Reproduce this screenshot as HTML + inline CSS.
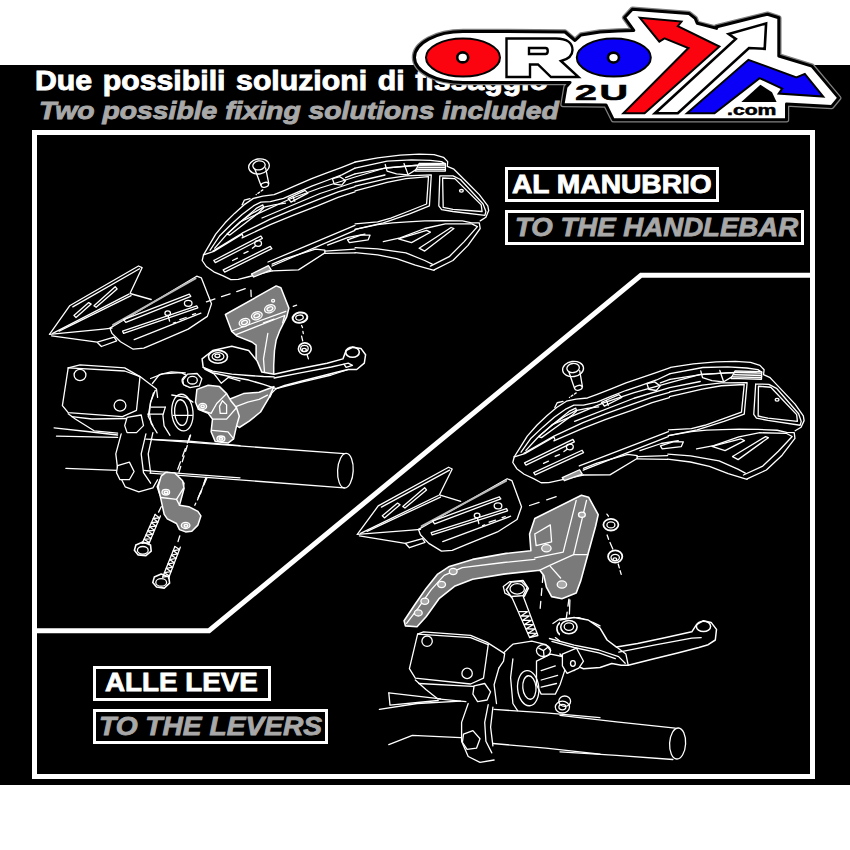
<!DOCTYPE html>
<html><head><meta charset="utf-8">
<style>
html,body{margin:0;padding:0;background:#fff;width:850px;height:850px;overflow:hidden}
#bg{position:absolute;left:0;top:65px;width:850px;height:720px;background:#000}
.t{position:absolute;font-family:"Liberation Sans",sans-serif;font-weight:bold;white-space:nowrap;transform-origin:0 0;line-height:1}
#h1{left:35.3px;top:66.6px;font-size:27.5px;color:#fff;word-spacing:2px;transform:scaleX(1.100);-webkit-text-stroke:0.9px #fff}
#h2{left:39px;top:98.5px;font-size:24.7px;color:#a8a8a8;font-style:italic;transform:scaleX(1.147);-webkit-text-stroke:0.9px #a8a8a8}
.box{position:absolute;border:3px solid #fff;box-sizing:border-box}
svg{position:absolute;left:0;top:0}
</style></head><body>
<div id="bg"></div>
<div class="t" id="h1">Due possibili soluzioni di fissaggio</div>
<div class="t" id="h2">Two possible fixing solutions included</div>
<!--DRAW--><svg width="850" height="850" viewBox="0 0 850 850" style="position:absolute;left:0;top:0" stroke-linecap="round" stroke-linejoin="round"><g><ellipse cx="259.0" cy="166.4" rx="10.4" ry="7.5" transform="rotate(-10 259.0 166.4)" stroke="#fff" stroke-width="1.3" fill="none"/><ellipse cx="259.0" cy="165.4" rx="6.2" ry="4.5" transform="rotate(-10 259.0 165.4)" stroke="#fff" stroke-width="1.3" fill="none"/><path d="M254.9,169.2 L260.9,185.2" stroke="#fff" stroke-width="1.3" fill="none"/><path d="M265.6,167.9 L268.8,183.7" stroke="#fff" stroke-width="1.3" fill="none"/><ellipse cx="264.8" cy="184.8" rx="3.8" ry="2.3" transform="rotate(-15 264.8 184.8)" stroke="#fff" stroke-width="1.3" fill="none"/><path d="M262.8,189.9 L256.2,194.6" stroke="#fff" stroke-width="1.3" fill="none" stroke-dasharray="2,2"/><path d="M242.1,204.9 L244.3,200.2 L250.0,198.7" stroke="#fff" stroke-width="1.3" fill="none"/><path d="M203.5,254.8 L209.1,245.4 L215.7,234.1 L225.1,222.8 L234.5,213.4 L243.9,204.9 L253.4,198.4 L262.8,196.1 L274.1,194.6 L283.5,190.8 L296.6,185.2 L311.7,178.6 L326.8,172.9 L341.8,167.3 L355.0,162.2" stroke="#fff" stroke-width="1.3" fill="none"/><path d="M210.1,250.1 L219.5,236.0 L230.8,224.7 L242.1,214.4 L253.4,205.9 L260.9,202.1 L270.3,201.7 L283.5,198.4 L296.6,192.7 L311.7,186.1 L326.8,180.5 L341.8,174.8 L355.0,168.2" stroke="#fff" stroke-width="1.3" fill="none"/><path d="M214.8,248.2 L226.1,235.1 L239.2,222.8 L251.5,213.8 L262.8,207.4 L274.1,204.9 L285.4,203.1" stroke="#fff" stroke-width="1.3" fill="none"/><path d="M227.0,234.1 L243.9,219.1 L257.1,207.8 L262.8,204.9 L263.7,207.8 L259.0,212.5 L245.8,222.8 L229.8,235.1 L227.0,234.1" stroke="#fff" stroke-width="1.3" fill="none"/><path d="M212.9,251.1 L242.1,233.2 L270.3,219.1 L292.9,209.6 L317.4,199.9 L338.1,191.8 L355.0,186.7" stroke="#fff" stroke-width="1.3" fill="none"/><path d="M242.1,237.9 L270.3,224.7 L292.9,215.3 L317.4,205.9 L338.1,197.4 L355.0,191.8" stroke="#fff" stroke-width="1.3" fill="none"/><path d="M288.2,198.4 L305.1,190.4 L307.9,193.1 L291.0,202.1 L288.2,198.4" stroke="#fff" stroke-width="1.3" fill="none"/><path d="M292.9,196.5 L294.8,201.2" stroke="#fff" stroke-width="1.3" fill="none"/><path d="M332.4,178.6 L339.9,176.7 L345.6,180.5 L341.8,185.2 L334.3,184.2 L332.4,178.6" stroke="#fff" stroke-width="1.3" fill="none"/><path d="M345.6,177.6 L355.0,173.9" stroke="#fff" stroke-width="1.3" fill="none"/><path d="M203.5,254.8 L202.2,260.5 L206.3,266.5 L213.8,271.8 L223.2,275.9 L230.8,279.7 L238.3,279.3 L249.6,276.5 L272.2,270.8" stroke="#fff" stroke-width="1.3" fill="none"/><path d="M203.5,254.8 L213.8,251.4 L242.1,234.1 L243.0,236.4" stroke="#fff" stroke-width="1.3" fill="none"/><path d="M213.8,260.5 L260.9,236.0 L262.4,238.3 L215.3,262.7 L213.8,260.5" stroke="#fff" stroke-width="1.3" fill="none"/><path d="M223.2,269.9 L270.3,246.4 L271.8,248.6 L224.7,272.1 L223.2,269.9" stroke="#fff" stroke-width="1.3" fill="none"/><ellipse cx="258.1" cy="243.5" rx="3.4" ry="2.8" stroke="#fff" stroke-width="1.3" fill="none"/><path d="M252.4,248.2 L255.6,245.8" stroke="#fff" stroke-width="1.3" fill="none"/><path d="M232.6,260.5 L237.4,258.2" stroke="#fff" stroke-width="1.3" fill="none"/><path d="M243.9,253.3 L248.1,251.4" stroke="#fff" stroke-width="1.3" fill="none"/><path d="M251.5,274.0 L268.4,265.7 L271.2,269.9 L253.7,277.0 L251.5,274.0" stroke="#fff" stroke-width="1.3" fill="#999"/><path d="M272.2,270.8 L298.5,269.9 L324.9,252.9 L324.9,250.1 L315.5,249.2 L285.4,258.6 L272.2,264.2" stroke="#fff" stroke-width="1.3" fill="none"/><path d="M324.9,251.1 L355.0,249.2" stroke="#fff" stroke-width="1.3" fill="none"/><path d="M324.9,253.3 L355.0,252.9" stroke="#fff" stroke-width="1.3" fill="none"/><path d="M355.1,162.0 L377.6,157.9 L400.2,155.1 L419.1,154.1 L434.1,154.7 L443.5,157.3 L447.7,161.6 L447.3,166.4 L453.9,169.2 L456.7,172.0 L468.0,183.3 L479.3,194.6 L487.8,205.9 L488.7,210.6 L485.9,217.2 L480.2,220.9" stroke="#fff" stroke-width="1.3" fill="none"/><path d="M355.1,168.2 L387.1,161.1 L411.5,159.8 L430.4,160.3 L441.6,161.6 L445.4,164.1" stroke="#fff" stroke-width="1.3" fill="none"/><path d="M355.1,173.9 L385.2,168.2 L415.3,165.4 L441.6,166.4 L445.4,168.2" stroke="#fff" stroke-width="1.3" fill="none"/><path d="M385.2,164.5 L387.1,171.1 L396.5,173.9 L407.8,174.8 L415.3,170.1 L420.9,164.5" stroke="#fff" stroke-width="1.3" fill="none"/><path d="M404.0,163.5 L407.8,173.9" stroke="#fff" stroke-width="1.3" fill="none"/><path d="M415.3,171.1 L445.4,171.1 L445.4,163.5 L419.1,163.5 L415.3,171.1" stroke="#fff" stroke-width="1.3" fill="#444"/><path d="M420.0,165.0 L444.5,165.0" stroke="#fff" stroke-width="1.3" fill="none"/><path d="M418.7,167.3 L444.5,167.3" stroke="#fff" stroke-width="1.3" fill="none"/><path d="M417.2,169.4 L444.5,169.4" stroke="#fff" stroke-width="1.3" fill="none"/><path d="M355.1,190.8 L387.1,182.4 L405.9,178.6 L428.5,176.7 L426.6,204.0 L407.8,211.5 L390.8,218.1 L377.6,221.9 L355.1,223.8" stroke="#fff" stroke-width="1.3" fill="none"/><path d="M355.1,186.1 L387.1,178.6 L405.9,175.8 L431.3,174.8 L429.4,205.9 L409.6,213.8 L383.3,222.8 L355.1,229.4" stroke="#fff" stroke-width="1.3" fill="none"/><path d="M439.8,175.8 L452.9,175.8 L460.5,179.5 L483.1,204.0 L485.9,211.5 L484.9,215.3 L452.9,211.5 L441.6,209.6 L438.8,205.9 L439.8,175.8" stroke="#fff" stroke-width="1.3" fill="none"/><path d="M442.6,178.0 L454.8,178.6 L481.2,204.9 L482.1,211.5 L452.9,209.3 L443.2,207.4 L442.6,178.0" stroke="#fff" stroke-width="1.3" fill="none"/><ellipse cx="461.4" cy="190.8" rx="1.9" ry="1.3" stroke="#fff" stroke-width="1.3" fill="none"/><path d="M355.1,229.4 L377.6,224.7 L392.7,222.8 L407.8,221.9 L424.7,220.9 L443.5,220.6 L462.4,220.9 L471.8,222.8 L479.3,222.8 L480.2,228.5 L468.0,245.4 L452.9,260.5 L434.1,269.9" stroke="#fff" stroke-width="1.3" fill="none"/><path d="M383.3,241.6 L400.2,237.9 L424.7,228.5 L445.4,223.8 L471.8,223.8 L477.4,226.6 L464.2,241.6 L449.2,256.7 L430.4,266.1" stroke="#fff" stroke-width="1.3" fill="none"/><path d="M355.1,252.6 L377.6,254.8 L396.5,258.6 L415.3,265.2 L434.1,270.3" stroke="#fff" stroke-width="1.3" fill="none"/><path d="M355.1,247.7 L377.6,248.8 L405.9,252.9 L424.7,260.5 L432.2,264.2" stroke="#fff" stroke-width="1.3" fill="none"/><path d="M398.4,238.8 L426.6,230.4 L430.4,232.2 L411.5,242.6 L398.4,238.8" stroke="#fff" stroke-width="1.3" fill="none"/><path d="M419.1,248.2 L451.1,227.5 L453.9,228.5 L424.7,251.1 L419.1,248.2" stroke="#fff" stroke-width="1.3" fill="none"/><path d="M347.5,239.8 L360.7,235.1 L370.1,235.1 L368.2,239.8 L349.4,242.6 L347.5,239.8" stroke="#fff" stroke-width="1.3" fill="none"/><path d="M240.0,222.0 L290.0,199.0 L320.0,188.0 L355.0,177.0 L385.0,168.0 L420.0,165.0 L440.0,164.0" stroke="#fff" stroke-width="1.3" fill="none"/><path d="M262.0,218.0 L320.0,193.5 L355.0,182.0 L385.0,175.0" stroke="#fff" stroke-width="1.3" fill="none"/><path d="M268.0,262.0 L355.0,225.4" stroke="#fff" stroke-width="1.3" fill="none"/><path d="M272.0,266.0 L355.0,230.3" stroke="#fff" stroke-width="1.3" fill="none"/><path d="M327.5,245.1 L348.2,237.4 L365.0,234.1" stroke="#fff" stroke-width="1.3" fill="none"/></g>
<g><path d="M49.5,334.4 L69.6,305.8 L138.5,266.0 L142.1,267.7 L130.0,293.5 L151.2,299.5" stroke="#fff" stroke-width="1.3" fill="none"/><path d="M72.8,306.9 L139.5,268.8" stroke="#fff" stroke-width="1.3" fill="none"/><path d="M52.7,333.4 L128.9,294.2" stroke="#fff" stroke-width="1.3" fill="none"/><path d="M59.1,331.2 L131.1,295.7" stroke="#fff" stroke-width="1.3" fill="none"/><path d="M73.9,315.4 L88.7,302.6 L91.2,304.1 L76.0,317.5 L73.9,315.4" stroke="#fff" stroke-width="1.3" fill="none"/><path d="M94.0,305.8 L115.2,286.8 L117.1,288.9 L96.1,307.3 L94.0,305.8" stroke="#fff" stroke-width="1.3" fill="none"/><path d="M49.5,334.4 L103.5,329.1 L112.0,328.1" stroke="#fff" stroke-width="1.3" fill="none"/><path d="M51.6,335.9 L97.2,342.2 L114.1,337.2 L116.7,340.8 L101.4,346.5 L97.2,342.2" stroke="#fff" stroke-width="1.3" fill="none"/><path d="M109.9,328.1 L196.7,276.2 L201.4,277.9 L211.5,303.7 L207.3,316.4 L188.2,329.1 L158.6,341.8 L143.8,348.2 L133.2,349.2 L120.5,341.8 L112.0,333.4 L109.9,328.1" stroke="#fff" stroke-width="1.3" fill="none"/><path d="M113.1,324.9 L195.6,278.3" stroke="#bbb" stroke-width="2" fill="none"/><path d="M123.6,319.6 L189.3,294.2 L190.8,296.3 L125.8,322.3 L123.6,319.6" stroke="#fff" stroke-width="1.3" fill="none"/><path d="M122.6,331.2 L196.7,305.8 L197.8,307.9 L123.6,333.4 L122.6,331.2" stroke="#fff" stroke-width="1.3" fill="none"/><path d="M134.2,339.7 L200.9,313.2" stroke="#fff" stroke-width="1.3" fill="none"/><ellipse cx="188.2" cy="303.3" rx="3.8" ry="3.0" stroke="#fff" stroke-width="1.3" fill="none"/><ellipse cx="167.7" cy="313.2" rx="2.8" ry="2.3" stroke="#fff" stroke-width="1.3" fill="none"/><path d="M168.1,315.8 L169.6,321.1" stroke="#fff" stroke-width="1.3" fill="none"/><path d="M173.4,323.2 L175.5,322.3" stroke="#fff" stroke-width="1.3" fill="none"/><path d="M179.8,319.6 L186.1,317.5" stroke="#fff" stroke-width="1.3" fill="none"/><path d="M192.5,314.7 L195.6,313.7" stroke="#fff" stroke-width="1.3" fill="none"/></g>
<g><path d="M225.4,314.5 L276.2,285.9 L280.9,287.8 L288.9,308.1 L286.8,316.6 L279.4,331.4 L276.2,339.9 L274.5,350.5 L273.7,365.3 L273.7,374.8 L263.5,374.8 L257.6,369.5 L256.1,358.9 L256.1,345.2 L251.9,342.0 L237.1,336.1 L231.8,331.4 L225.4,314.5" stroke="#fff" stroke-width="1.5" fill="#7c7c7c"/><path d="M231.8,331.0 L285.8,311.3" stroke="#fff" stroke-width="1.3" fill="none"/><path d="M236.0,334.6 L284.7,315.5 L282.6,322.9" stroke="#fff" stroke-width="1.3" fill="none"/><path d="M267.8,333.5 L263.5,358.9 L264.6,373.8" stroke="#fff" stroke-width="1.3" fill="none"/><ellipse cx="244.5" cy="322.5" rx="5.5" ry="3.8" transform="rotate(-20 244.5 322.5)" stroke="#fff" stroke-width="1.3" fill="#999"/><ellipse cx="244.5" cy="322.5" rx="3.0" ry="1.9" transform="rotate(-20 244.5 322.5)" stroke="#fff" stroke-width="1.3" fill="none"/><ellipse cx="256.8" cy="315.7" rx="5.5" ry="3.8" transform="rotate(-20 256.8 315.7)" stroke="#fff" stroke-width="1.3" fill="#999"/><ellipse cx="256.8" cy="315.7" rx="3.0" ry="1.9" transform="rotate(-20 256.8 315.7)" stroke="#fff" stroke-width="1.3" fill="none"/><ellipse cx="269.9" cy="308.8" rx="5.5" ry="3.8" transform="rotate(-20 269.9 308.8)" stroke="#fff" stroke-width="1.3" fill="#999"/><ellipse cx="269.9" cy="308.8" rx="3.0" ry="1.9" transform="rotate(-20 269.9 308.8)" stroke="#fff" stroke-width="1.3" fill="none"/><ellipse cx="273.1" cy="300.7" rx="1.5" ry="1.3" stroke="#fff" stroke-width="1.3" fill="none"/><path d="M263.5,322.9 L274.1,319.1" stroke="#fff" stroke-width="1.3" fill="none"/><path d="M293.2,306.4 L296.6,305.2" stroke="#fff" stroke-width="1.3" fill="none"/><ellipse cx="300.0" cy="317.6" rx="7.4" ry="5.1" transform="rotate(-10 300.0 317.6)" stroke="#fff" stroke-width="2" fill="none"/><ellipse cx="299.5" cy="317.6" rx="3.8" ry="2.5" transform="rotate(-10 299.5 317.6)" stroke="#fff" stroke-width="1.3" fill="none"/><path d="M301.6,325.5 L302.5,327.6" stroke="#fff" stroke-width="1.3" fill="none"/><path d="M302.9,331.4 L303.3,333.5" stroke="#fff" stroke-width="1.3" fill="none"/><path d="M301.6,336.1 L302.7,340.9" stroke="#fff" stroke-width="1.3" fill="none"/><ellipse cx="304.8" cy="348.8" rx="6.4" ry="5.9" stroke="#fff" stroke-width="1.6" fill="none"/><ellipse cx="304.4" cy="348.4" rx="3.8" ry="3.0" stroke="#fff" stroke-width="1.3" fill="none"/><ellipse cx="304.2" cy="350.0" rx="2.1" ry="1.7" stroke="#fff" stroke-width="1.3" fill="none"/><path d="M306.9,354.3 L308.4,358.9" stroke="#fff" stroke-width="1.3" fill="none"/><path d="M202.1,358.9 L212.7,350.5 L231.8,346.2 L248.7,350.5 L257.2,361.1 L261.8,372.1 L274.1,374.2 L295.3,369.5 L327.1,363.2 L342.9,358.9 L346.1,350.5 L352.5,347.3 L360.9,348.4 L365.6,354.7 L364.3,363.2 L356.7,369.5 L348.2,369.5 L337.6,372.1 L305.9,380.1 L284.7,385.4 L276.2,388.6 L263.5,384.4 L248.7,380.1 L231.8,376.9 L212.7,372.7 L203.2,367.4 L202.1,358.9" stroke="#fff" stroke-width="1.5" fill="#000"/><path d="M276.2,388.6 L272.0,392.8 L269.9,397.1" stroke="#fff" stroke-width="1.3" fill="none"/><path d="M203.2,367.4 L212.7,371.2 L231.8,374.2 L248.7,375.5 L263.5,376.5 L274.1,376.9" stroke="#fff" stroke-width="1.3" fill="none"/><ellipse cx="218.0" cy="356.8" rx="9.5" ry="6.4" stroke="#fff" stroke-width="1.6" fill="none"/><ellipse cx="218.0" cy="356.4" rx="5.9" ry="3.8" stroke="#fff" stroke-width="1.3" fill="none"/><ellipse cx="217.4" cy="355.8" rx="2.5" ry="1.7" stroke="#fff" stroke-width="1.3" fill="none"/><ellipse cx="352.5" cy="352.2" rx="6.8" ry="5.1" stroke="#fff" stroke-width="1.6" fill="none"/><path d="M274.1,378.0 L301.6,372.7 L331.3,367.0 L344.0,364.2" stroke="#fff" stroke-width="1.3" fill="none"/><path d="M276.2,388.6 L301.6,382.2 L331.3,375.0 L348.2,369.5" stroke="#fff" stroke-width="1.3" fill="none"/><path d="M344.0,364.2 L348.2,363.2 L352.5,365.3 L346.1,367.4 L344.0,364.2" stroke="#fff" stroke-width="1.3" fill="none"/><path d="M68.2,367.9 L80.0,364.9 L124.7,367.9 L140.0,376.6 L156.5,389.1 L157.6,397.4" stroke="#fff" stroke-width="1.3" fill="#000"/><path d="M68.2,367.9 L62.4,405.6 L68.2,412.6 L122.4,416.6 L136.5,410.3 L140.0,376.6" stroke="#fff" stroke-width="1.3" fill="none"/><path d="M68.2,367.9 L124.7,371.0 L140.0,376.6" stroke="#fff" stroke-width="1.3" fill="none"/><ellipse cx="80.0" cy="375.0" rx="5.9" ry="5.6" stroke="#fff" stroke-width="1.3" fill="none"/><ellipse cx="120.0" cy="405.6" rx="5.9" ry="5.6" stroke="#fff" stroke-width="1.3" fill="none"/><path d="M68.2,413.8 L75.3,419.0 L94.1,430.8 L117.6,433.1" stroke="#fff" stroke-width="1.3" fill="none"/><path d="M71.8,416.6 L91.8,419.0 L127.1,418.5" stroke="#fff" stroke-width="1.3" fill="none"/><path d="M54.1,427.9 L87.1,431.5 L117.6,435.0" stroke="#fff" stroke-width="1.3" fill="none"/><path d="M56.5,436.2 L117.6,437.4" stroke="#fff" stroke-width="1.3" fill="none"/><path d="M65.9,468.4 L117.6,470.3" stroke="#fff" stroke-width="1.3" fill="none"/><path d="M150.6,378.5 L162.4,373.8 L181.2,372.6 L190.6,377.4" stroke="#fff" stroke-width="1.3" fill="none"/><path d="M155.3,390.3 L150.6,402.1 L148.2,416.2 L152.9,425.6" stroke="#fff" stroke-width="1.3" fill="none"/><ellipse cx="182.4" cy="412.6" rx="10.6" ry="18.4" transform="rotate(-5 182.4 412.6)" stroke="#fff" stroke-width="1.3" fill="none"/><ellipse cx="181.2" cy="412.6" rx="6.6" ry="12.9" transform="rotate(-5 181.2 412.6)" stroke="#fff" stroke-width="1.3" fill="none"/><path d="M171.8,395.0 L185.9,397.4 L192.9,402.1" stroke="#fff" stroke-width="1.3" fill="none"/><path d="M121.2,433.8 L115.8,453.8 L118.1,472.6 L125.2,486.8 L138.8,491.9 L152.9,487.9 L157.6,479.7" stroke="#fff" stroke-width="1.3" fill="#000"/><path d="M145.9,433.8 L141.2,453.8 L143.5,472.6 L150.6,483.2" stroke="#fff" stroke-width="1.3" fill="none"/><path d="M152.9,432.6 L148.2,453.8 L150.6,472.6" stroke="#fff" stroke-width="1.3" fill="none"/><path d="M145.9,439.2 L185.9,440.9 L240.0,445.6" stroke="#fff" stroke-width="1.3" fill="none"/><path d="M143.5,470.3 L185.9,473.8 L240.0,477.8" stroke="#fff" stroke-width="1.3" fill="none"/><path d="M127.1,417.4 L141.2,415.0 L143.5,425.6 L136.5,432.6 L127.1,432.6 L124.7,425.6 L127.1,417.4" stroke="#fff" stroke-width="1.3" fill="#000"/><path d="M117.6,465.6 L129.4,462.1 L134.1,471.5 L129.4,479.7 L120.0,479.7 L116.5,472.6 L117.6,465.6" stroke="#fff" stroke-width="1.3" fill="#000"/><path d="M160.0,479.7 L167.1,472.6 L176.5,475.0 L184.0,483.2 L181.6,495.0 L160.0,495.0 L157.2,486.8 L160.0,479.7" stroke="#fff" stroke-width="1.5" fill="#7c7c7c"/><ellipse cx="164.7" cy="491.0" rx="2.4" ry="1.9" stroke="#fff" stroke-width="1.3" fill="none"/><path d="M190.6,435.0 L178.8,472.6" stroke="#fff" stroke-width="1.3" fill="none" stroke-dasharray="6,5"/><path d="M205.9,477.4 L200.0,495.0" stroke="#fff" stroke-width="1.3" fill="none" stroke-dasharray="6,5"/><path d="M204.7,369.1 L214.1,373.8 L221.2,383.2 L228.2,377.4 L240.0,380.9" stroke="#fff" stroke-width="1.3" fill="none"/><path d="M229.4,399.3 L243.5,393.6 L259.1,392.2 L270.4,388.0 L273.9,386.6 L268.9,397.9 L260.5,412.0 L249.2,421.2 L239.3,427.5 L235.1,424.7 L233.6,413.4 L229.4,399.3" stroke="#fff" stroke-width="1.5" fill="#7c7c7c"/><path d="M236.5,406.4 L247.8,402.1 L259.1,399.3 L267.5,395.1" stroke="#fff" stroke-width="1.3" fill="none"/><path d="M196.9,389.4 L208.2,385.2 L219.5,386.6 L226.6,393.6 L230.8,400.7 L236.5,407.8 L239.3,416.2 L236.5,426.1 L233.6,438.8 L228.0,443.1 L215.3,441.6 L211.1,431.8 L212.5,419.1 L208.2,413.4 L198.4,409.2 L195.5,402.1 L196.9,389.4" stroke="#fff" stroke-width="1.5" fill="#7c7c7c"/><ellipse cx="202.6" cy="406.4" rx="4.0" ry="3.1" stroke="#fff" stroke-width="1.3" fill="#aaa"/><ellipse cx="202.6" cy="406.4" rx="1.7" ry="1.3" stroke="#fff" stroke-width="1.3" fill="none"/><ellipse cx="220.9" cy="438.8" rx="4.0" ry="2.8" stroke="#fff" stroke-width="1.3" fill="#aaa"/><ellipse cx="220.9" cy="438.8" rx="1.7" ry="1.3" stroke="#fff" stroke-width="1.3" fill="none"/><path d="M212.5,419.1 L226.6,419.1 L236.5,407.8" stroke="#fff" stroke-width="1.3" fill="none"/><path d="M198.4,409.2 L211.1,413.4 L216.7,403.5 L226.6,393.6" stroke="#fff" stroke-width="1.3" fill="none"/><path d="M219.5,406.4 L222.4,400.7 L226.6,404.9 L226.6,413.4 L220.2,413.4 L219.5,406.4" stroke="#fff" stroke-width="1.3" fill="none"/><path d="M212.5,430.4 L228.0,431.8 L233.6,438.8" stroke="#fff" stroke-width="1.3" fill="none"/><ellipse cx="188.5" cy="380.9" rx="6.4" ry="5.6" stroke="#fff" stroke-width="1.3" fill="none"/><ellipse cx="188.5" cy="380.2" rx="3.5" ry="2.8" stroke="#fff" stroke-width="1.3" fill="none"/><path d="M152.4,383.5 L159.4,374.7 L171.2,371.8 L185.3,372.9" stroke="#fff" stroke-width="1.3" fill="none"/><path d="M173.5,415.3 L192.4,415.3" stroke="#fff" stroke-width="1.3" fill="none"/><path d="M153.5,392.9 L150.6,402.4 L149.4,412.9 L151.2,423.5 L157.1,432.9" stroke="#fff" stroke-width="1.3" fill="none"/><path d="M165.3,407.1 L162.9,415.3 L164.1,425.9 L170.0,435.3" stroke="#fff" stroke-width="1.3" fill="none"/><path d="M151.2,407.1 L165.3,407.1" stroke="#fff" stroke-width="1.3" fill="none"/><path d="M147.6,414.1 L162.9,414.1" stroke="#fff" stroke-width="1.3" fill="none"/><path d="M182.9,380.0 L187.6,374.1 L197.1,373.5 L201.8,378.8 L199.4,385.9 L190.0,387.6 L183.5,384.7 L182.9,380.0" stroke="#fff" stroke-width="1.3" fill="#000"/><ellipse cx="192.4" cy="380.2" rx="4.9" ry="3.8" stroke="#fff" stroke-width="1.3" fill="none"/><path d="M150.0,439.4 L344.1,453.6" stroke="#fff" stroke-width="1.3" fill="none"/><path d="M150.0,473.1 L344.1,487.8" stroke="#fff" stroke-width="1.3" fill="none"/><ellipse cx="345.4" cy="470.7" rx="7.8" ry="17.3" transform="rotate(3 345.4 470.7)" stroke="#fff" stroke-width="1.3" fill="none"/><path d="M190.1,435.5 L175.9,474.4" stroke="#fff" stroke-width="1.3" fill="none" stroke-dasharray="8,6"/><path d="M205.6,479.5 L195.3,505.4" stroke="#fff" stroke-width="1.3" fill="none" stroke-dasharray="8,6"/><path d="M158.1,486.8 L161.2,476.1 L165.8,472.3 L174.9,473.1 L182.6,480.7 L184.1,488.4 L179.5,505.2 L188.7,506.7 L197.9,511.3 L200.9,515.9 L197.9,525.1 L191.8,531.2 L185.6,531.9 L179.5,529.6 L176.5,523.5 L167.3,518.9 L164.2,514.4 L161.2,500.6 L158.1,486.8" stroke="#fff" stroke-width="1.5" fill="#7c7c7c"/><ellipse cx="165.8" cy="492.2" rx="3.8" ry="2.8" stroke="#fff" stroke-width="1.3" fill="#aaa"/><ellipse cx="185.6" cy="525.4" rx="4.3" ry="3.1" stroke="#fff" stroke-width="1.3" fill="#aaa"/><ellipse cx="166.1" cy="492.6" rx="1.8" ry="1.4" stroke="#fff" stroke-width="1.3" fill="none"/><ellipse cx="186.0" cy="525.8" rx="1.8" ry="1.4" stroke="#fff" stroke-width="1.3" fill="none"/><path d="M161.2,497.5 L176.5,499.4 L179.5,505.2" stroke="#fff" stroke-width="1.3" fill="none"/><path d="M176.5,499.4 L183.4,488.4" stroke="#fff" stroke-width="1.3" fill="none"/><path d="M155.1,514.4 L142.1,543.4" stroke="#fff" stroke-width="1.3" fill="none"/><path d="M160.4,515.9 L148.6,544.6" stroke="#fff" stroke-width="1.3" fill="none"/><path d="M155.1,514.4 L159.6,517.9 L153.2,518.5 L157.9,522.0 L151.3,522.7 L156.2,526.2 L149.5,526.8 L154.5,530.3 L147.6,531.0 L152.8,534.4 L145.8,535.1 L151.2,538.5 L143.9,539.3 L149.5,542.6 L142.1,543.4" stroke="#fff" stroke-width="1.3" fill="none"/><path d="M135.9,544.9 L142.8,541.9 L150.5,544.9 L151.2,551.1 L145.9,555.6 L138.2,554.9 L134.4,550.3 L135.9,544.9" stroke="#fff" stroke-width="1.6" fill="none"/><ellipse cx="142.8" cy="550.3" rx="5.4" ry="3.8" stroke="#fff" stroke-width="1.3" fill="none"/><path d="M174.9,546.5 L162.7,577.1" stroke="#fff" stroke-width="1.3" fill="none"/><path d="M180.3,547.2 L168.5,578.3" stroke="#fff" stroke-width="1.3" fill="none"/><path d="M174.9,546.5 L179.5,549.5 L173.2,550.8 L177.8,553.9 L171.4,555.2 L176.1,558.3 L169.7,559.6 L174.4,562.8 L167.9,563.9 L172.7,567.2 L166.2,568.3 L171.0,571.6 L164.5,572.7 L169.4,576.1 L162.7,577.1" stroke="#fff" stroke-width="1.3" fill="none"/><path d="M154.3,577.1 L161.2,574.0 L168.8,577.1 L169.6,583.2 L164.2,588.1 L156.6,587.0 L152.8,582.4 L154.3,577.1" stroke="#fff" stroke-width="1.6" fill="none"/><ellipse cx="161.2" cy="582.4" rx="5.4" ry="3.8" stroke="#fff" stroke-width="1.3" fill="none"/><path d="M161.2,506.7 L158.1,513.1" stroke="#fff" stroke-width="1.3" fill="none" stroke-dasharray="6,5"/><path d="M179.8,535.8 L177.2,544.2" stroke="#fff" stroke-width="1.3" fill="none" stroke-dasharray="6,5"/><path d="M207.1,477.6 L194.8,505.2" stroke="#fff" stroke-width="1.3" fill="none" stroke-dasharray="8,6"/><path d="M206.4,301.8 L245.5,288.6 L250.8,288.6 L251.2,296.5" stroke="#fff" stroke-width="1.3" fill="none" stroke-dasharray="9,7"/></g>
<g><path d="M534.8,518.5 L581.4,495.2 L588.6,497.2 L598.2,514.6 L595.6,526.2 L587.8,554.7 L580.8,580.6 L576.2,593.0 L561.9,598.7 L551.6,596.6 L546.4,587.1 L543.8,575.4 L539.9,570.2 L503.7,574.1 L472.6,579.3 L454.5,586.3 L439.0,598.7 L426.1,616.8 L417.0,626.7 L405.4,625.9 L404.1,620.7 L414.4,605.2 L426.1,588.4 L437.7,574.1 L449.4,566.4 L472.6,559.4 L506.3,553.4 L530.9,550.8 L529.6,534.0 L534.8,518.5" stroke="#fff" stroke-width="1.6" fill="#7a7a7a"/><path d="M576.2,500.4 L563.2,552.1 L534.8,557.8" stroke="#fff" stroke-width="1.3" fill="none"/><path d="M586.5,500.4 L573.6,554.7 L587.8,554.7" stroke="#fff" stroke-width="1.3" fill="none"/><path d="M539.9,570.2 L550.3,565.1 L573.6,554.7" stroke="#fff" stroke-width="1.3" fill="none"/><path d="M534.8,534.0 L550.3,524.9 L551.6,541.8 L536.1,545.6 L534.8,534.0" stroke="#fff" stroke-width="1.3" fill="none"/><path d="M406.6,623.3 L418.3,607.8 L431.2,589.6 L444.2,575.4 L462.3,567.6 L503.7,562.5 L534.8,559.4" stroke="#fff" stroke-width="1.3" fill="none"/><ellipse cx="453.2" cy="571.5" rx="3.9" ry="3.1" stroke="#fff" stroke-width="1.3" fill="#aaa"/><ellipse cx="441.6" cy="584.5" rx="3.9" ry="3.1" stroke="#fff" stroke-width="1.3" fill="#aaa"/><ellipse cx="424.8" cy="601.3" rx="3.9" ry="3.1" stroke="#fff" stroke-width="1.3" fill="#aaa"/><ellipse cx="418.3" cy="612.9" rx="3.9" ry="3.1" stroke="#fff" stroke-width="1.3" fill="#aaa"/><ellipse cx="546.4" cy="548.2" rx="4.7" ry="3.6" stroke="#fff" stroke-width="1.3" fill="#aaa"/><ellipse cx="561.9" cy="584.5" rx="4.7" ry="3.6" stroke="#fff" stroke-width="1.3" fill="#aaa"/><ellipse cx="581.9" cy="514.8" rx="3.4" ry="2.6" stroke="#fff" stroke-width="1.3" fill="#aaa"/><path d="M550.3,566.4 L560.6,578.0" stroke="#fff" stroke-width="1.3" fill="none"/><path d="M506.3,589.6 L511.5,581.9 L523.1,580.6 L528.3,588.4 L524.4,596.1 L511.5,597.4 L506.3,589.6" stroke="#fff" stroke-width="1.6" fill="#000"/><ellipse cx="517.2" cy="588.9" rx="7.2" ry="5.2" stroke="#fff" stroke-width="1.3" fill="none"/><path d="M511.5,596.6 L529.6,637.5 L537.9,635.5 L523.1,596.1" stroke="#fff" stroke-width="1.3" fill="#000"/><path d="M519.2,611.6 L527.4,611.7 L521.0,616.0 L529.3,616.0 L522.7,620.3 L531.2,620.4 L524.4,624.6 L533.1,624.7 L526.1,628.9 L535.0,629.0 L527.9,633.2 L536.9,633.3 L529.6,637.5" stroke="#fff" stroke-width="1.3" fill="none"/><path d="M543.0,575.4 L539.9,611.6" stroke="#fff" stroke-width="1.3" fill="none" stroke-dasharray="7,6"/><path d="M568.9,599.2 L566.3,618.1" stroke="#fff" stroke-width="1.3" fill="none" stroke-dasharray="7,6"/><path d="M529.6,505.5 L560.6,495.2" stroke="#fff" stroke-width="1.3" fill="none" stroke-dasharray="10,8"/><path d="M417.6,634.1 L423.5,631.8 L470.6,635.3 L487.1,642.4 L504.7,653.6 L503.5,661.2 L498.8,668.2" stroke="#fff" stroke-width="1.3" fill="#000"/><path d="M417.6,634.1 L409.4,668.7 L415.3,678.1 L470.6,684.0 L483.5,678.1 L488.2,644.7" stroke="#fff" stroke-width="1.3" fill="none"/><path d="M417.6,634.1 L470.6,637.6 L488.2,644.7" stroke="#fff" stroke-width="1.3" fill="none"/><ellipse cx="427.1" cy="641.2" rx="5.2" ry="5.2" stroke="#fff" stroke-width="1.3" fill="none"/><ellipse cx="467.1" cy="673.4" rx="5.2" ry="5.2" stroke="#fff" stroke-width="1.3" fill="none"/><path d="M415.3,680.0 L425.9,689.4 L437.6,698.8 L465.9,701.6" stroke="#fff" stroke-width="1.3" fill="none"/><path d="M418.8,683.5 L477.6,686.6" stroke="#fff" stroke-width="1.3" fill="none"/><path d="M503.5,652.9 L512.9,644.2 L531.8,641.2 L545.9,644.7 L550.6,650.6" stroke="#fff" stroke-width="1.3" fill="none"/><ellipse cx="528.2" cy="688.2" rx="10.6" ry="17.6" transform="rotate(-5 528.2 688.2)" stroke="#fff" stroke-width="1.3" fill="none"/><ellipse cx="529.4" cy="687.5" rx="6.6" ry="11.8" transform="rotate(-5 529.4 687.5)" stroke="#fff" stroke-width="1.3" fill="none"/><path d="M498.8,668.2 L494.1,684.7 L496.5,703.5" stroke="#fff" stroke-width="1.3" fill="none"/><path d="M512.9,658.8 L510.6,677.6 L512.9,703.5 L517.6,710.6" stroke="#fff" stroke-width="1.3" fill="none"/><path d="M468.2,703.5 L461.6,722.4 L461.6,741.2 L468.2,756.5 L480.0,762.4 L494.1,760.0" stroke="#fff" stroke-width="1.3" fill="#000"/><path d="M488.2,704.7 L484.7,722.4 L485.9,741.2 L491.8,752.9" stroke="#fff" stroke-width="1.3" fill="none"/><path d="M492.9,707.1 L490.6,727.1 L492.9,745.9" stroke="#fff" stroke-width="1.3" fill="none"/><path d="M494.1,709.4 L545.9,712.9 L600.0,717.6" stroke="#fff" stroke-width="1.3" fill="none"/><path d="M492.9,743.5 L545.9,748.2 L600.0,754.1" stroke="#fff" stroke-width="1.3" fill="none"/><path d="M474.1,685.9 L484.7,683.5 L490.6,691.8 L487.1,700.0 L477.6,701.6 L472.9,694.1 L474.1,685.9" stroke="#fff" stroke-width="1.3" fill="#000"/><path d="M463.5,734.1 L472.9,730.6 L480.0,738.8 L476.5,748.2 L467.1,749.4 L462.4,742.4 L463.5,734.1" stroke="#fff" stroke-width="1.3" fill="#000"/><ellipse cx="543.5" cy="650.6" rx="7.1" ry="5.9" stroke="#fff" stroke-width="1.3" fill="none"/><path d="M538.8,648.2 L543.5,650.6 L548.2,647.1" stroke="#fff" stroke-width="1.3" fill="none"/><path d="M543.5,650.6 L544.0,656.5" stroke="#fff" stroke-width="1.3" fill="none"/><path d="M536.5,661.2 L550.6,654.1 L562.4,656.5 L564.7,670.6 L560.0,684.7 L555.3,694.1 L541.2,694.1 L536.5,684.7 L536.5,661.2" stroke="#fff" stroke-width="1.3" fill="none"/><path d="M541.2,670.6 L555.3,665.9" stroke="#fff" stroke-width="1.3" fill="none"/><path d="M541.2,680.0 L557.6,675.3" stroke="#fff" stroke-width="1.3" fill="none"/><path d="M541.2,687.1 L556.5,683.5" stroke="#fff" stroke-width="1.3" fill="none"/><ellipse cx="562.4" cy="707.1" rx="7.1" ry="5.9" stroke="#fff" stroke-width="1.3" fill="none"/><ellipse cx="562.4" cy="707.1" rx="3.5" ry="2.8" stroke="#fff" stroke-width="1.3" fill="none"/><path d="M552.9,623.5 L560.0,618.8 L578.8,617.6 L592.9,622.4 L600.0,625.9" stroke="#fff" stroke-width="1.3" fill="none"/><ellipse cx="568.2" cy="628.7" rx="11.3" ry="8.9" stroke="#fff" stroke-width="1.6" fill="none"/><ellipse cx="568.2" cy="628.2" rx="6.6" ry="4.7" stroke="#fff" stroke-width="1.3" fill="none"/><path d="M555.3,637.6 L564.7,644.7 L583.5,645.9 L600.0,647.1" stroke="#fff" stroke-width="1.3" fill="none"/><path d="M564.7,647.1 L581.2,649.4 L583.5,661.6 L574.1,670.6 L565.9,668.2 L564.7,647.1" stroke="#fff" stroke-width="1.3" fill="none"/><ellipse cx="572.9" cy="663.5" rx="2.4" ry="2.4" stroke="#fff" stroke-width="1.3" fill="none"/><path d="M560.0,620.0 L574.1,617.6 L588.2,620.0 L600.0,628.2 L607.1,640.0 L616.5,647.1 L637.6,643.5 L665.9,637.6 L691.8,631.8 L696.5,624.7 L703.5,620.7 L711.1,622.4 L716.5,629.4 L715.3,640.0 L708.2,644.7 L698.8,647.5 L677.6,652.9 L654.1,658.8 L628.2,665.2 L621.2,665.2 L611.8,663.5 L600.0,667.5 L583.5,668.7 L576.5,665.9 L564.7,658.8 L560.0,654.1" stroke="#fff" stroke-width="1.5" fill="#000"/><ellipse cx="568.9" cy="627.1" rx="8.2" ry="6.6" stroke="#fff" stroke-width="1.6" fill="none"/><ellipse cx="568.9" cy="626.6" rx="4.7" ry="3.8" stroke="#fff" stroke-width="1.3" fill="none"/><ellipse cx="703.5" cy="626.4" rx="7.1" ry="5.2" stroke="#fff" stroke-width="1.5" fill="none"/><path d="M618.8,652.2 L654.1,645.2 L691.8,638.1 L701.2,637.6" stroke="#fff" stroke-width="1.3" fill="none"/><path d="M616.5,647.1 L625.9,654.1 L628.2,665.2" stroke="#fff" stroke-width="1.3" fill="none"/><path d="M562.4,654.1 L576.5,648.2 L583.5,661.2 L578.8,668.2 L567.1,673.4 L562.4,665.9 L562.4,654.1" stroke="#fff" stroke-width="1.3" fill="#000"/><ellipse cx="572.9" cy="663.5" rx="2.4" ry="2.8" stroke="#fff" stroke-width="1.3" fill="none"/><path d="M560.0,715.3 L616.5,721.9 L675.3,728.2" stroke="#fff" stroke-width="1.3" fill="none"/><path d="M560.0,751.8 L616.5,755.3 L672.9,759.5" stroke="#fff" stroke-width="1.3" fill="none"/><ellipse cx="677.6" cy="743.5" rx="8.0" ry="15.5" transform="rotate(3 677.6 743.5)" stroke="#fff" stroke-width="1.3" fill="none"/><path d="M569.9,600.0 L569.4,614.1" stroke="#fff" stroke-width="1.3" fill="none"/><ellipse cx="564.7" cy="701.2" rx="5.9" ry="5.2" stroke="#fff" stroke-width="1.3" fill="none"/><ellipse cx="610.9" cy="524.7" rx="7.5" ry="5.8" stroke="#fff" stroke-width="1.8" fill="none"/><ellipse cx="610.9" cy="524.9" rx="4.0" ry="3.0" stroke="#fff" stroke-width="1.3" fill="none"/><path d="M606.9,514.1 L608.4,516.2" stroke="#fff" stroke-width="1.3" fill="none"/><path d="M607.1,535.0 L608.6,539.3" stroke="#fff" stroke-width="1.3" fill="none"/><path d="M610.0,542.5 L612.8,549.1" stroke="#fff" stroke-width="1.3" fill="none"/><ellipse cx="615.2" cy="556.5" rx="7.1" ry="6.1" stroke="#fff" stroke-width="1.8" fill="none"/><ellipse cx="615.2" cy="557.6" rx="4.2" ry="3.3" stroke="#fff" stroke-width="1.3" fill="none"/><ellipse cx="614.9" cy="559.3" rx="1.9" ry="1.4" stroke="#fff" stroke-width="1.3" fill="none"/><path d="M618.2,564.0 L621.2,574.4" stroke="#fff" stroke-width="1.3" fill="none" stroke-dasharray="4,3"/><path d="M379.4,709.4 L417.1,703.5 L460.6,701.2" stroke="#fff" stroke-width="1.3" fill="none"/><path d="M388.8,692.9 L440.6,698.8" stroke="#fff" stroke-width="1.3" fill="none"/><path d="M388.8,692.9 L390.0,705.2 L438.2,700.5" stroke="#fff" stroke-width="1.3" fill="none"/><path d="M388.8,744.7 L412.4,735.3 L460.6,737.6" stroke="#fff" stroke-width="1.3" fill="none"/><path d="M549.4,638.5 L574.1,645.1 L598.8,650.0 L618.6,656.6 L625.2,663.2" stroke="#fff" stroke-width="1.3" fill="none"/><path d="M551.9,641.3 L574.1,647.5 L598.8,652.8 L615.3,658.7" stroke="#fff" stroke-width="1.3" fill="none"/><path d="M503.3,586.6 L509.9,581.6 L521.4,581.6 L527.2,587.4 L523.1,595.6 L511.5,596.5 L504.9,593.2 L503.3,586.6" stroke="#fff" stroke-width="1.3" fill="none"/></g>
<g transform="translate(514.6,459.4) rotate(1.7) scale(1.012) translate(-203.9,-257.4)"><ellipse cx="259.0" cy="166.4" rx="10.4" ry="7.5" transform="rotate(-10 259.0 166.4)" stroke="#fff" stroke-width="1.3" fill="none"/><ellipse cx="259.0" cy="165.4" rx="6.2" ry="4.5" transform="rotate(-10 259.0 165.4)" stroke="#fff" stroke-width="1.3" fill="none"/><path d="M254.9,169.2 L260.9,185.2" stroke="#fff" stroke-width="1.3" fill="none"/><path d="M265.6,167.9 L268.8,183.7" stroke="#fff" stroke-width="1.3" fill="none"/><ellipse cx="264.8" cy="184.8" rx="3.8" ry="2.3" transform="rotate(-15 264.8 184.8)" stroke="#fff" stroke-width="1.3" fill="none"/><path d="M262.8,189.9 L256.2,194.6" stroke="#fff" stroke-width="1.3" fill="none" stroke-dasharray="2,2"/><path d="M242.1,204.9 L244.3,200.2 L250.0,198.7" stroke="#fff" stroke-width="1.3" fill="none"/><path d="M203.5,254.8 L209.1,245.4 L215.7,234.1 L225.1,222.8 L234.5,213.4 L243.9,204.9 L253.4,198.4 L262.8,196.1 L274.1,194.6 L283.5,190.8 L296.6,185.2 L311.7,178.6 L326.8,172.9 L341.8,167.3 L355.0,162.2" stroke="#fff" stroke-width="1.3" fill="none"/><path d="M210.1,250.1 L219.5,236.0 L230.8,224.7 L242.1,214.4 L253.4,205.9 L260.9,202.1 L270.3,201.7 L283.5,198.4 L296.6,192.7 L311.7,186.1 L326.8,180.5 L341.8,174.8 L355.0,168.2" stroke="#fff" stroke-width="1.3" fill="none"/><path d="M214.8,248.2 L226.1,235.1 L239.2,222.8 L251.5,213.8 L262.8,207.4 L274.1,204.9 L285.4,203.1" stroke="#fff" stroke-width="1.3" fill="none"/><path d="M227.0,234.1 L243.9,219.1 L257.1,207.8 L262.8,204.9 L263.7,207.8 L259.0,212.5 L245.8,222.8 L229.8,235.1 L227.0,234.1" stroke="#fff" stroke-width="1.3" fill="none"/><path d="M212.9,251.1 L242.1,233.2 L270.3,219.1 L292.9,209.6 L317.4,199.9 L338.1,191.8 L355.0,186.7" stroke="#fff" stroke-width="1.3" fill="none"/><path d="M242.1,237.9 L270.3,224.7 L292.9,215.3 L317.4,205.9 L338.1,197.4 L355.0,191.8" stroke="#fff" stroke-width="1.3" fill="none"/><path d="M288.2,198.4 L305.1,190.4 L307.9,193.1 L291.0,202.1 L288.2,198.4" stroke="#fff" stroke-width="1.3" fill="none"/><path d="M292.9,196.5 L294.8,201.2" stroke="#fff" stroke-width="1.3" fill="none"/><path d="M332.4,178.6 L339.9,176.7 L345.6,180.5 L341.8,185.2 L334.3,184.2 L332.4,178.6" stroke="#fff" stroke-width="1.3" fill="none"/><path d="M345.6,177.6 L355.0,173.9" stroke="#fff" stroke-width="1.3" fill="none"/><path d="M203.5,254.8 L202.2,260.5 L206.3,266.5 L213.8,271.8 L223.2,275.9 L230.8,279.7 L238.3,279.3 L249.6,276.5 L272.2,270.8" stroke="#fff" stroke-width="1.3" fill="none"/><path d="M203.5,254.8 L213.8,251.4 L242.1,234.1 L243.0,236.4" stroke="#fff" stroke-width="1.3" fill="none"/><path d="M213.8,260.5 L260.9,236.0 L262.4,238.3 L215.3,262.7 L213.8,260.5" stroke="#fff" stroke-width="1.3" fill="none"/><path d="M223.2,269.9 L270.3,246.4 L271.8,248.6 L224.7,272.1 L223.2,269.9" stroke="#fff" stroke-width="1.3" fill="none"/><ellipse cx="258.1" cy="243.5" rx="3.4" ry="2.8" stroke="#fff" stroke-width="1.3" fill="none"/><path d="M252.4,248.2 L255.6,245.8" stroke="#fff" stroke-width="1.3" fill="none"/><path d="M232.6,260.5 L237.4,258.2" stroke="#fff" stroke-width="1.3" fill="none"/><path d="M243.9,253.3 L248.1,251.4" stroke="#fff" stroke-width="1.3" fill="none"/><path d="M251.5,274.0 L268.4,265.7 L271.2,269.9 L253.7,277.0 L251.5,274.0" stroke="#fff" stroke-width="1.3" fill="#999"/><path d="M272.2,270.8 L298.5,269.9 L324.9,252.9 L324.9,250.1 L315.5,249.2 L285.4,258.6 L272.2,264.2" stroke="#fff" stroke-width="1.3" fill="none"/><path d="M324.9,251.1 L355.0,249.2" stroke="#fff" stroke-width="1.3" fill="none"/><path d="M324.9,253.3 L355.0,252.9" stroke="#fff" stroke-width="1.3" fill="none"/><path d="M355.1,162.0 L377.6,157.9 L400.2,155.1 L419.1,154.1 L434.1,154.7 L443.5,157.3 L447.7,161.6 L447.3,166.4 L453.9,169.2 L456.7,172.0 L468.0,183.3 L479.3,194.6 L487.8,205.9 L488.7,210.6 L485.9,217.2 L480.2,220.9" stroke="#fff" stroke-width="1.3" fill="none"/><path d="M355.1,168.2 L387.1,161.1 L411.5,159.8 L430.4,160.3 L441.6,161.6 L445.4,164.1" stroke="#fff" stroke-width="1.3" fill="none"/><path d="M355.1,173.9 L385.2,168.2 L415.3,165.4 L441.6,166.4 L445.4,168.2" stroke="#fff" stroke-width="1.3" fill="none"/><path d="M385.2,164.5 L387.1,171.1 L396.5,173.9 L407.8,174.8 L415.3,170.1 L420.9,164.5" stroke="#fff" stroke-width="1.3" fill="none"/><path d="M404.0,163.5 L407.8,173.9" stroke="#fff" stroke-width="1.3" fill="none"/><path d="M415.3,171.1 L445.4,171.1 L445.4,163.5 L419.1,163.5 L415.3,171.1" stroke="#fff" stroke-width="1.3" fill="#444"/><path d="M420.0,165.0 L444.5,165.0" stroke="#fff" stroke-width="1.3" fill="none"/><path d="M418.7,167.3 L444.5,167.3" stroke="#fff" stroke-width="1.3" fill="none"/><path d="M417.2,169.4 L444.5,169.4" stroke="#fff" stroke-width="1.3" fill="none"/><path d="M355.1,190.8 L387.1,182.4 L405.9,178.6 L428.5,176.7 L426.6,204.0 L407.8,211.5 L390.8,218.1 L377.6,221.9 L355.1,223.8" stroke="#fff" stroke-width="1.3" fill="none"/><path d="M355.1,186.1 L387.1,178.6 L405.9,175.8 L431.3,174.8 L429.4,205.9 L409.6,213.8 L383.3,222.8 L355.1,229.4" stroke="#fff" stroke-width="1.3" fill="none"/><path d="M439.8,175.8 L452.9,175.8 L460.5,179.5 L483.1,204.0 L485.9,211.5 L484.9,215.3 L452.9,211.5 L441.6,209.6 L438.8,205.9 L439.8,175.8" stroke="#fff" stroke-width="1.3" fill="none"/><path d="M442.6,178.0 L454.8,178.6 L481.2,204.9 L482.1,211.5 L452.9,209.3 L443.2,207.4 L442.6,178.0" stroke="#fff" stroke-width="1.3" fill="none"/><ellipse cx="461.4" cy="190.8" rx="1.9" ry="1.3" stroke="#fff" stroke-width="1.3" fill="none"/><path d="M355.1,229.4 L377.6,224.7 L392.7,222.8 L407.8,221.9 L424.7,220.9 L443.5,220.6 L462.4,220.9 L471.8,222.8 L479.3,222.8 L480.2,228.5 L468.0,245.4 L452.9,260.5 L434.1,269.9" stroke="#fff" stroke-width="1.3" fill="none"/><path d="M383.3,241.6 L400.2,237.9 L424.7,228.5 L445.4,223.8 L471.8,223.8 L477.4,226.6 L464.2,241.6 L449.2,256.7 L430.4,266.1" stroke="#fff" stroke-width="1.3" fill="none"/><path d="M355.1,252.6 L377.6,254.8 L396.5,258.6 L415.3,265.2 L434.1,270.3" stroke="#fff" stroke-width="1.3" fill="none"/><path d="M355.1,247.7 L377.6,248.8 L405.9,252.9 L424.7,260.5 L432.2,264.2" stroke="#fff" stroke-width="1.3" fill="none"/><path d="M398.4,238.8 L426.6,230.4 L430.4,232.2 L411.5,242.6 L398.4,238.8" stroke="#fff" stroke-width="1.3" fill="none"/><path d="M419.1,248.2 L451.1,227.5 L453.9,228.5 L424.7,251.1 L419.1,248.2" stroke="#fff" stroke-width="1.3" fill="none"/><path d="M347.5,239.8 L360.7,235.1 L370.1,235.1 L368.2,239.8 L349.4,242.6 L347.5,239.8" stroke="#fff" stroke-width="1.3" fill="none"/><path d="M240.0,222.0 L290.0,199.0 L320.0,188.0 L355.0,177.0 L385.0,168.0 L420.0,165.0 L440.0,164.0" stroke="#fff" stroke-width="1.3" fill="none"/><path d="M262.0,218.0 L320.0,193.5 L355.0,182.0 L385.0,175.0" stroke="#fff" stroke-width="1.3" fill="none"/><path d="M268.0,262.0 L355.0,225.4" stroke="#fff" stroke-width="1.3" fill="none"/><path d="M272.0,266.0 L355.0,230.3" stroke="#fff" stroke-width="1.3" fill="none"/><path d="M327.5,245.1 L348.2,237.4 L365.0,234.1" stroke="#fff" stroke-width="1.3" fill="none"/></g><g transform="translate(357.3,534.4) rotate(1.2) scale(1.01) translate(-49.5,-334.4)"><path d="M49.5,334.4 L69.6,305.8 L138.5,266.0 L142.1,267.7 L130.0,293.5 L151.2,299.5" stroke="#fff" stroke-width="1.3" fill="none"/><path d="M72.8,306.9 L139.5,268.8" stroke="#fff" stroke-width="1.3" fill="none"/><path d="M52.7,333.4 L128.9,294.2" stroke="#fff" stroke-width="1.3" fill="none"/><path d="M59.1,331.2 L131.1,295.7" stroke="#fff" stroke-width="1.3" fill="none"/><path d="M73.9,315.4 L88.7,302.6 L91.2,304.1 L76.0,317.5 L73.9,315.4" stroke="#fff" stroke-width="1.3" fill="none"/><path d="M94.0,305.8 L115.2,286.8 L117.1,288.9 L96.1,307.3 L94.0,305.8" stroke="#fff" stroke-width="1.3" fill="none"/><path d="M49.5,334.4 L103.5,329.1 L112.0,328.1" stroke="#fff" stroke-width="1.3" fill="none"/><path d="M51.6,335.9 L97.2,342.2 L114.1,337.2 L116.7,340.8 L101.4,346.5 L97.2,342.2" stroke="#fff" stroke-width="1.3" fill="none"/><path d="M109.9,328.1 L196.7,276.2 L201.4,277.9 L211.5,303.7 L207.3,316.4 L188.2,329.1 L158.6,341.8 L143.8,348.2 L133.2,349.2 L120.5,341.8 L112.0,333.4 L109.9,328.1" stroke="#fff" stroke-width="1.3" fill="none"/><path d="M113.1,324.9 L195.6,278.3" stroke="#bbb" stroke-width="2" fill="none"/><path d="M123.6,319.6 L189.3,294.2 L190.8,296.3 L125.8,322.3 L123.6,319.6" stroke="#fff" stroke-width="1.3" fill="none"/><path d="M122.6,331.2 L196.7,305.8 L197.8,307.9 L123.6,333.4 L122.6,331.2" stroke="#fff" stroke-width="1.3" fill="none"/><path d="M134.2,339.7 L200.9,313.2" stroke="#fff" stroke-width="1.3" fill="none"/><ellipse cx="188.2" cy="303.3" rx="3.8" ry="3.0" stroke="#fff" stroke-width="1.3" fill="none"/><ellipse cx="167.7" cy="313.2" rx="2.8" ry="2.3" stroke="#fff" stroke-width="1.3" fill="none"/><path d="M168.1,315.8 L169.6,321.1" stroke="#fff" stroke-width="1.3" fill="none"/><path d="M173.4,323.2 L175.5,322.3" stroke="#fff" stroke-width="1.3" fill="none"/><path d="M179.8,319.6 L186.1,317.5" stroke="#fff" stroke-width="1.3" fill="none"/><path d="M192.5,314.7 L195.6,313.7" stroke="#fff" stroke-width="1.3" fill="none"/></g></svg><!--/DRAW-->
<svg width="850" height="850" viewBox="0 0 850 850">
<g fill="none" stroke="#fff" stroke-width="5">
<rect x="34.5" y="132.5" width="778" height="644"/>
<polyline points="812,275.3 641,275.3 209,630.7 34,630.7" stroke-linejoin="miter"/>
</g>
</svg>
<div class="box" style="left:505px;top:167px;width:214px;height:35px"></div>
<div class="box" style="left:505px;top:209.5px;width:299px;height:35px"></div>
<div class="box" style="left:92.5px;top:666px;width:178px;height:35px"></div>
<div class="box" style="left:92.5px;top:708.5px;width:235px;height:35px"></div>
<div class="t" id="l1" style="left:512px;top:172px;font-size:25.4px;color:#fff;transform:scaleX(1.109);-webkit-text-stroke:0.8px #fff">AL MANUBRIO</div>
<div class="t" id="l2" style="left:514.7px;top:214.6px;font-size:25.4px;color:#a8a8a8;font-style:italic;transform:scaleX(1.087);-webkit-text-stroke:0.8px #a8a8a8">TO THE HANDLEBAR</div>
<div class="t" id="l3" style="left:104.8px;top:670px;font-size:25.9px;color:#fff;transform:scaleX(1.073);-webkit-text-stroke:0.8px #fff">ALLE LEVE</div>
<div class="t" id="l4" style="left:99.2px;top:713.6px;font-size:25.1px;color:#a8a8a8;font-style:italic;transform:scaleX(1.121);-webkit-text-stroke:0.8px #a8a8a8">TO THE LEVERS</div>

<svg width="850" height="850" viewBox="0 0 850 850" style="position:absolute;left:0;top:0">
<g id="logo">
<path d="M414.5,57.5 A48.5,26 0 0 1 463,31.5 L497,31.5 L565,32 L575,40.5 L581,35 L600,32 L618,31 L633.8,30.4 L624.6,17.6 L632.4,9.2 L688.8,13.4 L695.2,18.4 L697.3,23.3 L716.7,28.4 L716,27 L767.5,14.2 L778.8,17.8 L778.8,56 L811.9,66.1 L838.7,97.9 L831.7,106.4 L786.5,104 L786.5,119.8 L613.4,119.8 L606,105 L563,104.5 L566,87 L570,82.4 L463,82.4 A48.5,24.9 0 0 1 414.5,57.5 Z" fill="none" stroke="#808080" stroke-width="5.5" stroke-linejoin="round"/><path d="M414.5,57.5 A48.5,26 0 0 1 463,31.5 L497,31.5 L565,32 L575,40.5 L581,35 L600,32 L618,31 L633.8,30.4 L624.6,17.6 L632.4,9.2 L688.8,13.4 L695.2,18.4 L697.3,23.3 L716.7,28.4 L716,27 L767.5,14.2 L778.8,17.8 L778.8,56 L811.9,66.1 L838.7,97.9 L831.7,106.4 L786.5,104 L786.5,119.8 L613.4,119.8 L606,105 L563,104.5 L566,87 L570,82.4 L463,82.4 A48.5,24.9 0 0 1 414.5,57.5 Z" fill="#fff" stroke="#000" stroke-width="3" stroke-linejoin="round"/>
<ellipse cx="463" cy="57.6" rx="37" ry="19" fill="#fb0410" stroke="#000" stroke-width="2"/>
<ellipse cx="462.7" cy="57.4" rx="5.5" ry="5" fill="#fff" stroke="#000" stroke-width="2.6"/>
<ellipse cx="613.8" cy="57.6" rx="37" ry="19" fill="#0a00f8" stroke="#000" stroke-width="2"/>
<ellipse cx="613.5" cy="57.6" rx="5.5" ry="5" fill="#fff" stroke="#000" stroke-width="2.6"/>
<path d="M506.5,38.5 L556,38.5 C568,38.5 572.5,44 572.5,50 C572.5,56 569,59 561,61 L578.5,77 L551,77 L538,64.5 L530,64.5 L530,77 L506.5,77 Z M529,48 L545.5,48 C548.5,48 548.5,54 545.5,54 L529,54 Z" fill="#fff" stroke="#000" stroke-width="2.4" fill-rule="evenodd"/>
<polygon points="639.8,17.7 681.5,21.5 677.8,26.2 719.4,46.6 644.6,113.2 623.4,113.2 688.4,48 664.5,38.3 659.3,41.6" fill="#fb0410" stroke="#000" stroke-width="2" stroke-linejoin="miter"/>
<polygon points="766.1,23.4 728.7,34 735.8,38.9 655,113.2 677.8,113.2 749,48 764.7,48.8" fill="#fff" stroke="#000" stroke-width="2.6"/>
<polygon points="687,113.2 748.4,59.8 796.4,77.4 804.8,73.9 823.2,96.5 778.7,93.6 782.2,88.7 759.6,78.1 714.5,113.2" fill="#0a00f8" stroke="#000" stroke-width="2"/>
<polygon points="741.3,102.1 760.4,84.8 772,92.2 776.6,102.1" fill="#000"/>
</g>
</svg>
<div class="t" style="left:574.8px;top:80.6px;font-size:22.8px;color:#000;transform:scaleX(1.73);letter-spacing:1.5px;-webkit-text-stroke:0.6px #000">2U</div>
<div class="t" id="dotcom" style="left:726.5px;top:102.6px;font-size:14.6px;color:#000;transform:scaleX(1.45);-webkit-text-stroke:0.5px #000">.com</div>
</body></html>
